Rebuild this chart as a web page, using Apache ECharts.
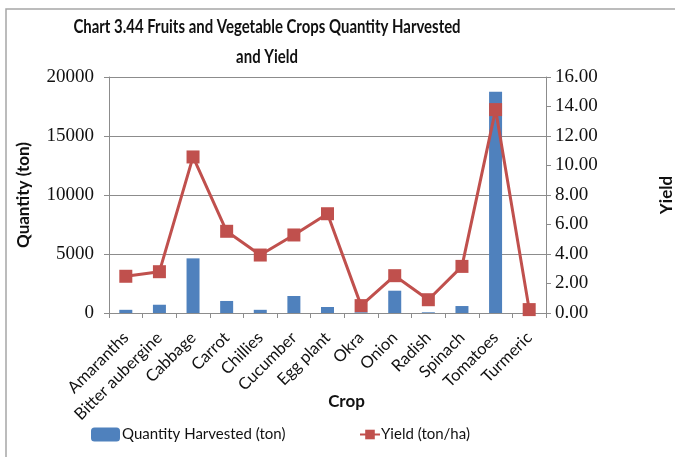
<!DOCTYPE html>
<html>
<head>
<meta charset="utf-8">
<script src="https://cdn.jsdelivr.net/npm/echarts@6/dist/echarts.min.js"></script>
<style>
html,body{margin:0;padding:0;background:#fff;}
#chart{width:675px;height:457px;}
</style>
</head>
<body>
<div id="chart"></div>
<script>
var titleText = 'Chart 3.44 Fruits and Vegetable Crops Quantity Harvested\nand Yield';
var crops = ['Amaranths','Bitter aubergine','Cabbage','Carrot','Chillies','Cucumber','Egg plant','Okra','Onion','Radish','Spinach','Tomatoes','Turmeric'];
var quantityHarvested = [270, 700, 4630, 1020, 270, 1440, 510, 60, 1890, 60, 590, 18760, 20];
var yieldTonHa = [2.49, 2.80, 10.58, 5.54, 3.93, 5.29, 6.73, 0.50, 2.53, 0.90, 3.16, 13.79, 0.23];
var leftTicks = [0, 5000, 10000, 15000, 20000];
var rightTicks = [0, 2, 4, 6, 8, 10, 12, 14, 16];

var sans = 'Lato, "Liberation Sans", sans-serif';
var serif = '"Liberation Serif", "DejaVu Serif", serif';

var chart = echarts.init(document.getElementById('chart'));
chart.setOption({
  animation: false,
  backgroundColor: '#fff',
  graphic: [{
    type: 'rect',
    shape: {x: 6, y: 9, width: 680, height: 470},
    style: {fill: 'none', stroke: '#a6a6a6', lineWidth: 1.5},
    silent: true, z: -1
  }, {
    type: 'text',
    x: 267, y: 12,
    scaleX: 0.83,
    style: {
      text: titleText,
      align: 'center', verticalAlign: 'top',
      font: 'bold 18px ' + sans,
      fill: '#111',
      lineHeight: 30
    },
    silent: true
  }],
  legend: [{
    data: ['Quantity Harvested (ton)'],
    left: 86, top: 422,
    itemWidth: 29, itemHeight: 14, itemGap: 2,
    textStyle: {fontFamily: sans, fontSize: 15, color: '#111', padding: [0,0,0,-3]}
  }, {
    data: ['Yield (ton/ha)'],
    left: 354, top: 422,
    itemWidth: 20, itemHeight: 12,
    textStyle: {fontFamily: sans, fontSize: 15, color: '#111', padding: [0,0,0,-4]}
  }],
  grid: {left: 109, right: 129, top: 77, bottom: 144, containLabel: false, outerBoundsMode: 'none'},
  xAxis: {
    type: 'category',
    data: crops,
    name: 'Crop',
    nameLocation: 'middle',
    nameGap: 80,
    nameMoveOverlap: false,
    nameTextStyle: {fontFamily: sans, fontWeight: 'bold', fontSize: 17, color: '#111', padding: [0, 0, 0, 38]},
    axisLine: {lineStyle: {color: '#8c8c8c'}},
    axisTick: {show: true, alignWithLabel: false, length: 5, lineStyle: {color: '#8c8c8c'}},
    axisLabel: {rotate: 45, interval: 0, margin: 22, fontFamily: sans, fontSize: 16.5, color: '#111'}
  },
  yAxis: [{
    type: 'value',
    min: 0, max: 20000, interval: 5000,
    name: 'Quantity (ton)',
    nameLocation: 'middle',
    nameGap: 77,
    nameRotate: 90,
    nameMoveOverlap: false,
    nameTextStyle: {fontFamily: sans, fontWeight: 'bold', fontSize: 17, color: '#111'},
    axisLine: {show: true, lineStyle: {color: '#8c8c8c'}},
    axisTick: {show: true, length: 5, lineStyle: {color: '#8c8c8c'}},
    axisLabel: {margin: 15, fontFamily: serif, fontSize: 19, color: '#111',
      formatter: function (v) { return String(v); }},
    splitLine: {show: true, lineStyle: {color: '#8c8c8c', width: 1}}
  }, {
    type: 'value',
    min: 0, max: 16, interval: 2,
    name: 'Yield',
    nameLocation: 'middle',
    nameGap: 112,
    nameRotate: 90,
    nameMoveOverlap: false,
    nameTextStyle: {fontFamily: sans, fontWeight: 'bold', fontSize: 17, color: '#111'},
    axisLine: {show: true, lineStyle: {color: '#8c8c8c'}},
    axisTick: {show: true, length: 5, lineStyle: {color: '#8c8c8c'}},
    axisLabel: {margin: 9, fontFamily: serif, fontSize: 19, color: '#111',
      formatter: function (v) { return v.toFixed(2); }},
    splitLine: {show: false}
  }],
  series: [{
    name: 'Quantity Harvested (ton)',
    type: 'bar',
    yAxisIndex: 0,
    data: quantityHarvested,
    barWidth: 13,
    itemStyle: {color: '#4F81BD'}
  }, {
    name: 'Yield (ton/ha)',
    type: 'line',
    yAxisIndex: 1,
    data: yieldTonHa,
    symbol: 'rect',
    symbolSize: 13,
    lineStyle: {color: '#C0504D', width: 3},
    itemStyle: {color: '#C0504D'}
  }]
});
</script>
</body>
</html>
